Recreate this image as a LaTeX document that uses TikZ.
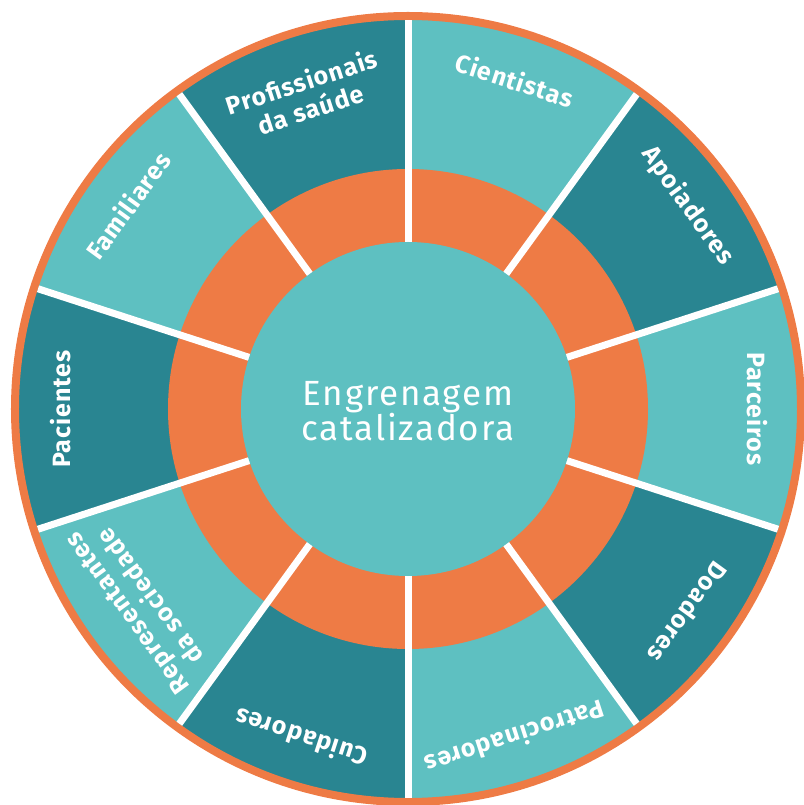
\documentclass[tikz,border=0pt]{standalone}
\usepackage{fontspec}
\setmainfont{Fira Sans}
\newfontfamily\segfont{Fira Sans}[LetterSpace=4]
\newfontfamily\hubfont{Fira Sans}[LetterSpace=5]
\definecolor{tealLight}{RGB}{94,192,193}
\definecolor{tealDark}{RGB}{41,133,145}
\definecolor{ringOrange}{RGB}{238,123,69}

\begin{document}
\begin{tikzpicture}[x=1pt,y=1pt,
  divider/.style={draw=white,line width=7pt},
  seglabel/.style={text=white,font=\segfont\fontsize{25}{29}\selectfont\bfseries,align=center,inner sep=0pt}]
\useasboundingbox (-408,-396) rectangle (395,409);

%Shape: Sectors of the outer ring
\foreach \a/\c in {54/tealLight,18/tealDark,-18/tealLight,-54/tealDark,-90/tealLight,-126/tealDark,-162/tealLight,162/tealDark,126/tealLight,90/tealDark}
  \fill[\c] (0,0) -- (\a:392) arc[start angle=\a, delta angle=36, radius=392] -- cycle;
%Shape: Circle (rim)
\draw[ringOrange,line width=8pt] (0,0) circle[radius=393];
%Shape: Circle (orange ring)
\fill[ringOrange] (0,0) circle[radius=240];
%Straight Lines: dividers
\foreach \a in {18,54,...,342}
  \draw[divider] (\a:160) -- (\a:389);
%Shape: Circle (hub)
\fill[tealLight] (0,0) circle[radius=167];
\node[text=white,font=\hubfont\fontsize{35}{35}\selectfont,align=center] (hub) at (0,-2) {Engrenagem\\catalizadora};

%Labels of the sectors
\node[seglabel,rotate=-18] (cientistas) at (72:346) {Cientistas};
\node[seglabel,rotate=-54] (apoiadores) at (36:346) {Apoiadores};
\node[seglabel,rotate=-90] (parceiros) at (0:349) {Parceiros};
\node[seglabel,rotate=-126] (doadores) at (-36:346) {Doadores};
\node[seglabel,rotate=-162] (patrocinadores) at (-72:346) {Patrocinadores};
\node[seglabel,rotate=162] (cuidadores) at (-108:346) {Cuidadores};
\node[seglabel,rotate=126] (representantes) at (-144:333) {Representantes\\da sociedade};
\node[seglabel,rotate=90] (pacientes) at (180:347) {Pacientes};
\node[seglabel,rotate=54] (familiares) at (144:346) {Familiares};
\node[seglabel,rotate=18] (profissionais) at (108:330) {Profissionais\\da saúde};
\end{tikzpicture}
\end{document}
